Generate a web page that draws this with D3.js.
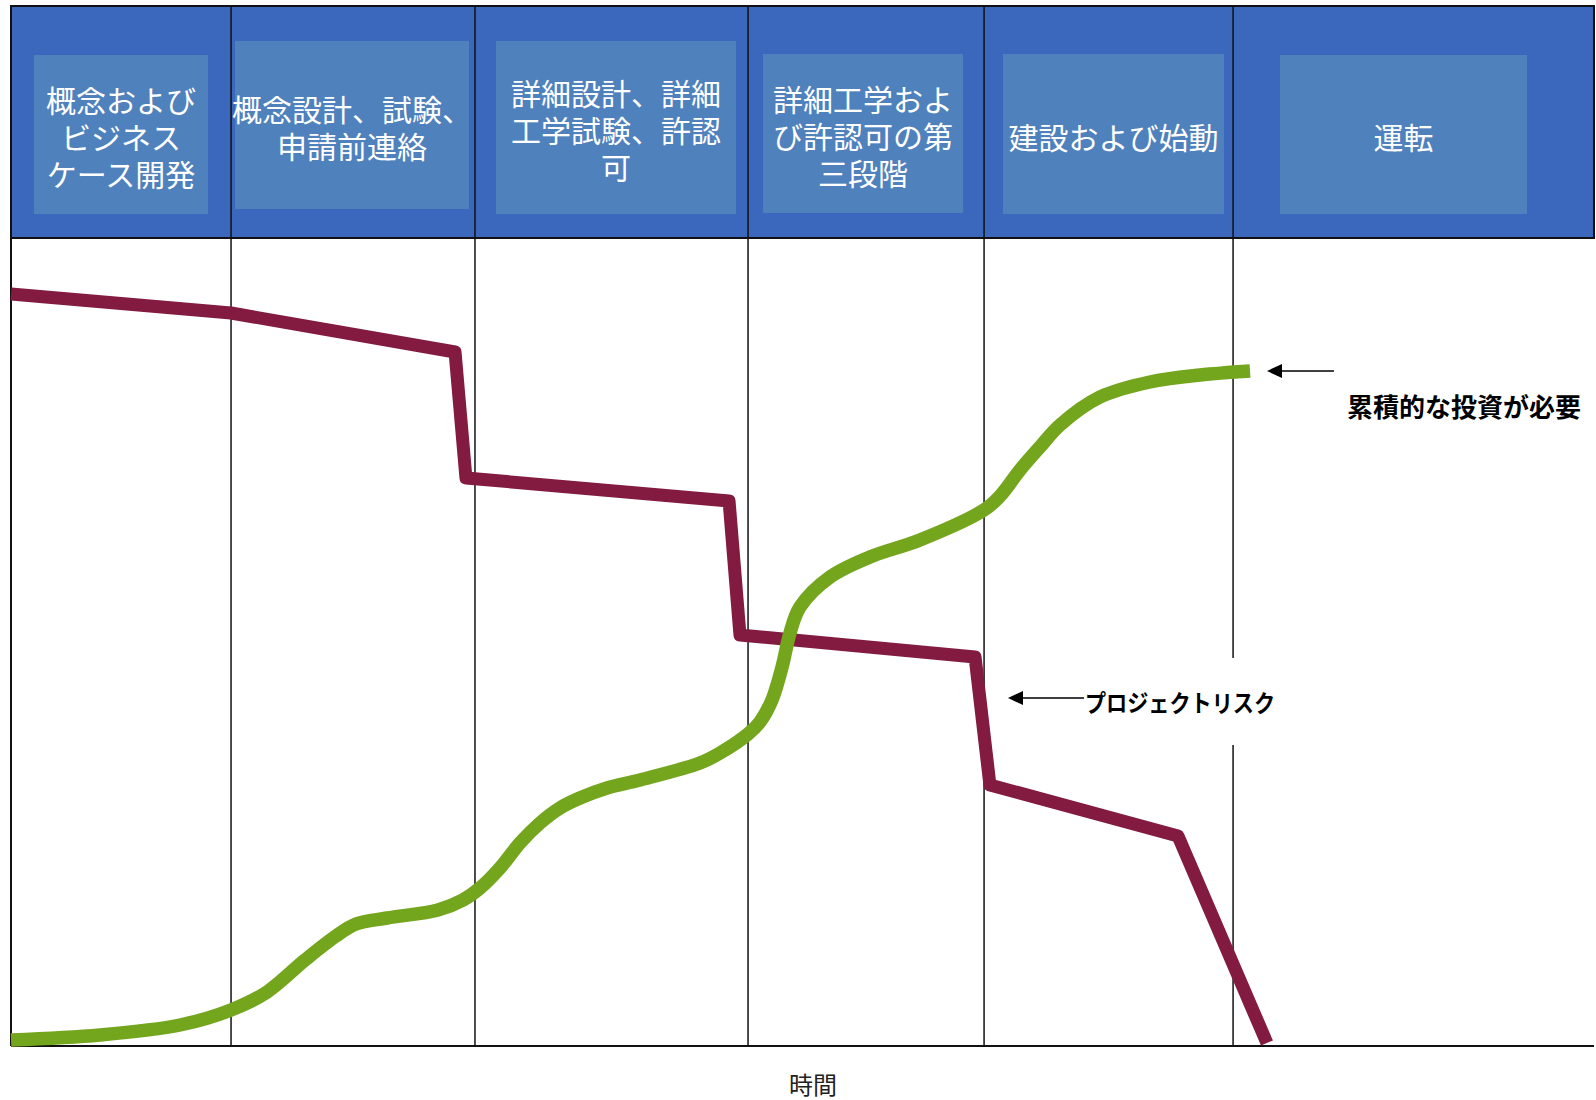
<!DOCTYPE html>
<html><head><meta charset="utf-8">
<script src="https://cdn.jsdelivr.net/npm/d3@7"></script>
<style>body{margin:0;background:#fff;} svg{display:block;}</style>
</head><body>
<svg id="c" width="1596" height="1100"></svg>
<script>
// ---- data ----
const phaseLabels = [
  ["概念および", "ビジネス", "ケース開発"],
  ["概念設計、試験、", "申請前連絡"],
  ["詳細設計、詳細", "工学試験、許認", "可"],
  ["詳細工学およ", "び許認可の第", "三段階"],
  ["建設および始動"],
  ["運転"]
];
const phaseEdges = [0, 13.90, 29.31, 46.56, 61.47, 77.20, 100];
const riskTime  = [0, 13.90, 28.05, 28.74, 45.36, 46.05, 60.90, 61.84, 73.72, 79.34];
const riskValue = [93.07, 90.72, 85.89, 70.30, 67.45, 50.87, 48.14, 32.30, 25.99, 0.37];
const investTime  = [0, 5.62, 10.68, 13.90, 16.17, 18.57, 20.53, 21.79, 23.75, 26.97, 28.55, 29.63, 30.89, 32.15, 33.42, 34.68, 35.94, 37.65, 39.73, 43.52, 44.79, 46.56, 47.31, 48.07, 48.71, 49.21, 49.84, 51.74, 54.26, 57.42, 61.47, 62.48, 63.74, 65.00, 66.27, 68.79, 71.95, 75.11, 78.27];
const investValue = [0.74, 1.36, 2.60, 4.46, 6.68, 10.64, 13.61, 15.10, 15.84, 16.83, 18.07, 19.55, 22.03, 25.12, 27.60, 29.46, 30.69, 31.93, 32.92, 35.02, 36.26, 38.61, 40.10, 42.82, 46.91, 51.11, 54.33, 58.04, 60.52, 62.62, 66.34, 68.07, 71.29, 74.13, 76.86, 80.32, 82.18, 83.04, 83.54];
const xAxisLabel = "時間";
const riskLabel = "プロジェクトリスク";
const investLabel = "累積的な投資が必要";

// ---- layout ----
const L = {left: 11, right: 1594, top: 6, headerBottom: 238, bottom: 1046};
const headerBoxes = [
  {x0: 34, x1: 208, y0: 55, y1: 214},
  {x0: 235, x1: 469, y0: 41, y1: 209},
  {x0: 496, x1: 736, y0: 41, y1: 214},
  {x0: 763, x1: 963, y0: 54, y1: 213},
  {x0: 1003, x1: 1224, y0: 54, y1: 214},
  {x0: 1280, x1: 1527, y0: 55, y1: 214}
];
const FONT = "'Noto Sans CJK JP','Noto Sans',sans-serif";

const svg = d3.select("#c");
const x = d3.scaleLinear().domain([0, 100]).range([L.left, L.right]);
const y = d3.scaleLinear().domain([0, 100]).range([L.bottom, L.headerBottom]);

// header band
svg.append("rect").attr("x", L.left).attr("y", L.top)
  .attr("width", L.right - L.left).attr("height", L.headerBottom - L.top)
  .attr("fill", "#3B68BD").attr("stroke", "#111").attr("stroke-width", 2);

// header boxes + labels
const hb = svg.append("g").selectAll("g").data(phaseLabels).join("g");
hb.append("rect")
  .attr("x", (d, i) => headerBoxes[i].x0).attr("y", (d, i) => headerBoxes[i].y0)
  .attr("width", (d, i) => headerBoxes[i].x1 - headerBoxes[i].x0)
  .attr("height", (d, i) => headerBoxes[i].y1 - headerBoxes[i].y0)
  .attr("fill", "#4F81BD");
hb.each(function(lines, i) {
  const b = headerBoxes[i];
  const cx = (b.x0 + b.x1) / 2, cy = (b.y0 + b.y1) / 2 + 1.5;
  d3.select(this).selectAll("text").data(lines).join("text")
    .attr("x", cx)
    .attr("y", (t, j) => cy + (j - (lines.length - 1) / 2) * 37)
    .attr("text-anchor", "middle").attr("dominant-baseline", "central")
    .attr("fill", "#fff").attr("font-family", FONT).attr("font-size", 30)
    .text(t => t);
});

// vertical phase separators (full height)
svg.append("g").selectAll("line").data(phaseEdges.slice(1, -1)).join("line")
  .attr("x1", d => x(d)).attr("x2", d => x(d))
  .attr("y1", L.top).attr("y2", L.bottom)
  .attr("stroke", "#111").attr("stroke-width", 1.5);
// left border
svg.append("line").attr("x1", L.left).attr("x2", L.left).attr("y1", L.top).attr("y2", L.bottom)
  .attr("stroke", "#111").attr("stroke-width", 2);
// bottom axis line
svg.append("line").attr("x1", L.left).attr("x2", L.right).attr("y1", L.bottom).attr("y2", L.bottom)
  .attr("stroke", "#111").attr("stroke-width", 2);
// header bottom line
svg.append("line").attr("x1", L.left).attr("x2", L.right).attr("y1", L.headerBottom).attr("y2", L.headerBottom)
  .attr("stroke", "#111").attr("stroke-width", 2);

// risk line
const riskPts = riskTime.map((t, i) => [t, riskValue[i]]);
svg.append("path").datum(riskPts)
  .attr("d", d3.line().x(d => x(d[0])).y(d => y(d[1])))
  .attr("fill", "none").attr("stroke", "#821B3F").attr("stroke-width", 13)
  .attr("stroke-linejoin", "round");

// investment curve
const invPts = investTime.map((t, i) => [t, investValue[i]]);
svg.append("path").datum(invPts)
  .attr("d", d3.line().x(d => x(d[0])).y(d => y(d[1])).curve(d3.curveCatmullRom.alpha(0.5)))
  .attr("fill", "none").attr("stroke", "#73A51D").attr("stroke-width", 13.5);

// annotations
function arrow(tipX, tipY, endX) {
  svg.append("line").attr("x1", tipX + 12).attr("x2", endX).attr("y1", tipY).attr("y2", tipY)
    .attr("stroke", "#000").attr("stroke-width", 1.5);
  svg.append("path")
    .attr("d", `M${tipX},${tipY} L${tipX + 15},${tipY - 7} L${tipX + 15},${tipY + 7} Z`)
    .attr("fill", "#000");
}
// investment annotation
arrow(1267, 371, 1334);
svg.append("text").attr("x", 1347).attr("y", 405)
  .attr("dominant-baseline", "central").attr("font-family", FONT).attr("font-weight", 700)
  .attr("font-size", 26).attr("fill", "#000").text(investLabel);

// risk annotation with white backdrop
svg.append("rect").attr("x", 1082).attr("y", 658).attr("width", 205).attr("height", 87).attr("fill", "#fff");
arrow(1008, 698, 1084);
svg.append("text").attr("x", 1085).attr("y", 701)
  .attr("dominant-baseline", "central").attr("font-family", FONT).attr("font-weight", 700)
  .attr("font-size", 24).attr("fill", "#000")
  .attr("textLength", 190).attr("lengthAdjust", "spacingAndGlyphs").text(riskLabel);

// x-axis label
svg.append("text").attr("x", 813).attr("y", 1083)
  .attr("text-anchor", "middle").attr("dominant-baseline", "central")
  .attr("font-family", FONT).attr("font-size", 24).attr("fill", "#222").text(xAxisLabel);
</script>
</body></html>
